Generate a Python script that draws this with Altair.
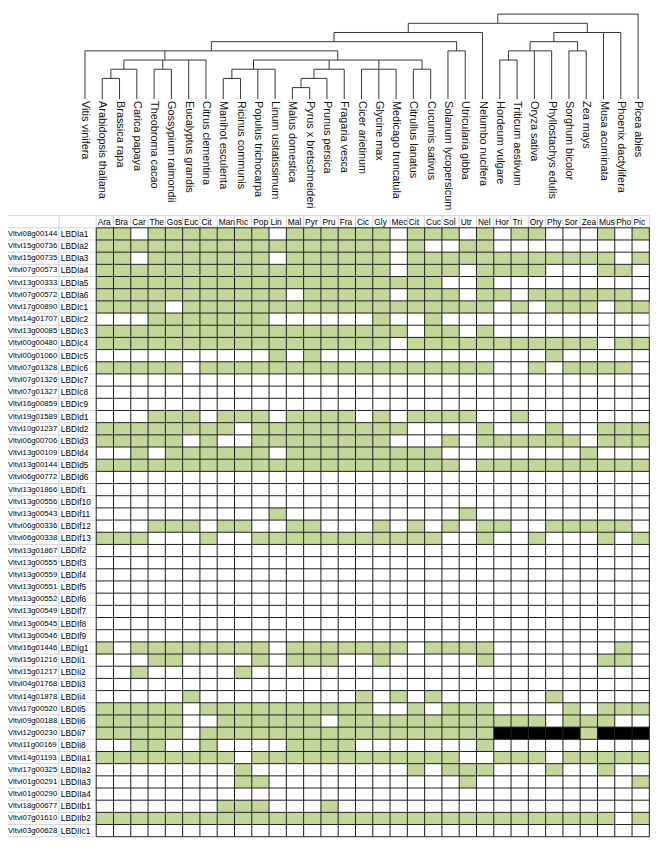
import altair as alt
import pandas as pd

# ---------------- data ----------------
species = [
    "Vitis vinifera", "Arabidopsis thaliana", "Brassica rapa", "Carica papaya",
    "Theobroma cacao", "Gossypium raimondii", "Eucalyptus grandis", "Citrus clementina",
    "Manihot esculenta", "Ricinus communis", "Populus trichocarpa", "Linum usitatissimum",
    "Malus domestica", "Pyrus x bretschneideri", "Prunus persica", "Fragaria vesca",
    "Cicer arietinum", "Glycine max", "Medicago truncatula", "Citrullus lanatus",
    "Cucumis sativus", "Solanum lycopersicum", "Utricularia gibba", "Nelumbo nucifera",
    "Hordeum vulgare", "Triticum aestivum", "Oryza sativa", "Phyllostachys edulis",
    "Sorghum bicolor", "Zea mays", "Musa acuminata", "Phoenix dactylifera", "Picea abies",
]

column_labels = [
    "Ara", "Bra", "Car", "The", "Gos", "Euc", "Cit", "Man", "Ric", "Pop", "Lin", "Mal", "Pyr",
    "Pru", "Fra", "Cic", "Gly", "Mec", "Cit", "Cuc", "Sol", "Utr", "Nel", "Hor", "Tri", "Ory",
    "Phy", "Sor", "Zea", "Mus", "Pho", "Pic",
]

# species tree (nested groups of leaf names)
tree = (
    (
        (
            (
                (
                    "Vitis vinifera",
                    (
                        (("Arabidopsis thaliana", "Brassica rapa"), "Carica papaya"),
                        ("Theobroma cacao", "Gossypium raimondii"),
                        "Eucalyptus grandis",
                        "Citrus clementina",
                    ),
                    (
                        (("Manihot esculenta", "Ricinus communis"), "Populus trichocarpa", "Linum usitatissimum"),
                        ((("Malus domestica", "Pyrus x bretschneideri"), "Prunus persica"), "Fragaria vesca"),
                        ("Cicer arietinum", "Glycine max", "Medicago truncatula"),
                        ("Citrullus lanatus", "Cucumis sativus"),
                    ),
                ),
                ("Solanum lycopersicum", "Utricularia gibba"),
            ),
            "Nelumbo nucifera",
        ),
        (
            (
                (("Hordeum vulgare", "Triticum aestivum"), "Oryza sativa", "Phyllostachys edulis"),
                ("Sorghum bicolor", "Zea mays"),
            ),
            "Musa acuminata",
            "Phoenix dactylifera",
        ),
    ),
    "Picea abies",
)

gene_ids = [
    "Vitvi08g00144", "Vitvi15g00736", "Vitvi15g00735", "Vitvi07g00573", "Vitvi13g00333",
    "Vitvi07g00572", "Vitvi17g00890", "Vitvi14g01707", "Vitvi13g00085", "Vitvi00g00480",
    "Vitvi00g01060", "Vitvi07g01328", "Vitvi07g01326", "Vitvi07g01327", "Vitvi16g00859",
    "Vitvi19g01589", "Vitvi10g01237", "Vitvi06g00706", "Vitvi13g00109", "Vitvi13g00144",
    "Vitvi06g00772", "Vitvi13g01866", "Vitvi13g00556", "Vitvi13g00543", "Vitvi06g00336",
    "Vitvi06g00338", "Vitvi13g01867", "Vitvi13g00555", "Vitvi13g00559", "Vitvi13g00551",
    "Vitvi13g00552", "Vitvi13g00549", "Vitvi13g00545", "Vitvi13g00546", "Vitvi16g01446",
    "Vitvi15g01216", "Vitvi15g01217", "Vitvi04g01768", "Vitvi14g01878", "Vitvi17g00520",
    "Vitvi09g00188", "Vitvi12g00230", "Vitvi11g00169", "Vitvi14g01193", "Vitvi17g00325",
    "Vitvi01g00291", "Vitvi01g00290", "Vitvi18g00677", "Vitvi07g01610", "Vitvi03g00628",
]

lbd_names = [
    "LBDIa1", "LBDIa2", "LBDIa3", "LBDIa4", "LBDIa5", "LBDIa6", "LBDIc1", "LBDIc2", "LBDIc3",
    "LBDIc4", "LBDIc5", "LBDIc6", "LBDIc7", "LBDIc8", "LBDIc9", "LBDId1", "LBDId2", "LBDId3",
    "LBDId4", "LBDId5", "LBDId6", "LBDIf1", "LBDIf10", "LBDIf11", "LBDIf12", "LBDIf13",
    "LBDIf2", "LBDIf3", "LBDIf4", "LBDIf5", "LBDIf6", "LBDIf7", "LBDIf8", "LBDIf9", "LBDIg1",
    "LBDIi1", "LBDIi2", "LBDIi3", "LBDIi4", "LBDIi5", "LBDIi6", "LBDIi7", "LBDIi8",
    "LBDIIa1", "LBDIIa2", "LBDIIa3", "LBDIIa4", "LBDIIb1", "LBDIIb2", "LBDIIc1",
]

# 1 = ortholog present, 0 = absent, X = black cell
presence = [
    "1101111111011" + "1111011101011000101",
    "1111111111111" + "1111010011000000000",
    "1101111111011" + "1111011111111111101",
    "1111111111111" + "1111011101111000110",
    "1111111111111" + "1111111001000000000",
    "1111111111101" + "1111011101101111110",
    "1111011111111" + "1111111111010111011",
    "0001111111000" + "0001001000000000000",
    "1111111111111" + "1111101101000000000",
    "1111111111111" + "1111011111111111011",
    "0000000000101" + "0000000000000100000",
    "1111101111111" + "1111111111001011110",
    "0000000000000" + "0000000000000000000",
    "0000000000000" + "0000000000000000000",
    "0000000000000" + "0000000000000000000",
    "0001110111011" + "1101011110010000000",
    "1111111101111" + "1111100001000100111",
    "1111101001111" + "1111000101111110111",
    "0010111111011" + "1111111000000001000",
    "1111111111111" + "1111111101111111111",
    "0000000000000" + "0000000000000000000",
    "0000000000000" + "0000000000000000000",
    "0000000000000" + "0000000000000000000",
    "0000000000100" + "0000000010000000000",
    "0001110110011" + "0001010101100111110",
    "1110001001111" + "1111111001001000101",
    "0000000000000" + "0000000000000000000",
    "0000000000000" + "0000000000000000000",
    "0000000000000" + "0000000000000000000",
    "0000000000000" + "0000000000000000000",
    "0000000000000" + "0000000000000000000",
    "0000000000000" + "0000000000000000000",
    "0000000000000" + "0000000000000000000",
    "0000000000000" + "0000000000000000000",
    "1011111111011" + "1111101111000000010",
    "0001100001011" + "1001000001000000110",
    "0010000010000" + "0000000000000000000",
    "0000000000000" + "0000000000000000000",
    "0000010000000" + "0010101000000100000",
    "1111101111111" + "1110010111000010111",
    "1111100111111" + "0111111111111011100",
    "1111101111111" + "1111111111XXXXX1XXX",
    "0011001000011" + "1100000001000000000",
    "1111111101111" + "1111111100111011111",
    "0000000010000" + "0000010111000100100",
    "0000000011000" + "0000000010000000001",
    "0000000000000" + "0000000000000000000",
    "0000000111000" + "1000000000000000000",
    "1111111111111" + "1111111111111111101",
    "0000000000000" + "0000000000000000000",
]

# ---------------- layout (pixels, chart-local) ----------------
W, H = 652, 836
COL_W = 17.5          # column width
ROW_H = 12.33         # row height
GRID_X0 = 89.3        # left edge of first species column
HEADER_Y0 = 205.0     # top of header row
TREE_TOP = 1.0        # root bracket
TREE_STEP = 9.3       # distance between tree levels
LEAF_BOTTOM = 87.0    # where leaf branches end
LABEL_TOP = 89.0      # start of rotated species names
LEAF_SHIFT = -0.65    # leaf position relative to column index
GENE_X = 0.0
LBD_X = 53.5
SEP_X = 51.5

def ux(px):
    return (px - GRID_X0) / COL_W

def vy(py):
    return (py - HEADER_Y0) / ROW_H

x_scale = alt.Scale(domain=[ux(0), ux(W)], nice=False, zero=False)
y_scale = alt.Scale(domain=[vy(0), vy(H)], nice=False, zero=False, reverse=True)

n_cols = len(column_labels)
n_rows = len(gene_ids)

# cells
cells = []
for r, row in enumerate(presence):
    for j, ch in enumerate(row):
        if ch != "0":
            cells.append({"x": j, "x2": j + 1, "y": r + 1, "y2": r + 2,
                          "state": "present" if ch == "1" else "blocked"})
cells_df = pd.DataFrame(cells)

# black grid lines
grid = [{"x": j, "x2": j, "y": 1, "y2": n_rows + 1} for j in range(n_cols + 1)]
grid += [{"x": 0, "x2": n_cols, "y": i, "y2": i} for i in range(1, n_rows + 2)]
grid_df = pd.DataFrame(grid)

# light (spreadsheet) lines
light = [{"x": ux(0), "x2": 0, "y": i, "y2": i} for i in range(1, n_rows + 2)]
light.append({"x": ux(0), "x2": n_cols, "y": 0, "y2": 0})
light.append({"x": ux(SEP_X), "x2": ux(SEP_X), "y": 0, "y2": n_rows + 1})
light += [{"x": j, "x2": j, "y": 0, "y2": 1} for j in range(n_cols + 1)]
light_df = pd.DataFrame(light)

red_df = pd.DataFrame([{"x": n_cols + 0.015, "x2": n_cols + 0.015, "y": vy(293), "y2": vy(328)}])

# tree segments
leaf_u = {name: i + LEAF_SHIFT for i, name in enumerate(species)}
segs = []

def level_v(k):
    return vy(TREE_TOP + k * TREE_STEP)

def build(node, depth):
    if isinstance(node, str):
        return leaf_u[node], None
    kids = [build(c, depth + 1) for c in node]
    xs = [k[0] for k in kids]
    for cx, cd in kids:
        segs.append({"x": cx, "x2": cx, "y": level_v(depth),
                     "y2": level_v(cd) if cd is not None else vy(LEAF_BOTTOM)})
    segs.append({"x": min(xs), "x2": max(xs), "y": level_v(depth), "y2": level_v(depth)})
    return (min(xs) + max(xs)) / 2, depth

build(tree, 0)
tree_df = pd.DataFrame(segs)

species_df = pd.DataFrame({"x": [leaf_u[s] for s in species], "y": vy(LABEL_TOP), "t": species})
header_df = pd.DataFrame({"x": list(range(n_cols)), "y": 0.5, "t": column_labels})
gene_df = pd.DataFrame({"x": ux(GENE_X), "y": [r + 1.5 for r in range(n_rows)], "t": gene_ids})
lbd_df = pd.DataFrame({"x": ux(LBD_X), "y": [r + 1.5 for r in range(n_rows)], "t": lbd_names})

X = lambda: alt.X("x:Q", scale=x_scale, axis=None)
Y = lambda: alt.Y("y:Q", scale=y_scale, axis=None)

def segments(df, color, width=1):
    return alt.Chart(df).mark_rule(color=color, strokeWidth=width).encode(
        x=X(), x2="x2:Q", y=Y(), y2="y2:Q")

cell_layer = alt.Chart(cells_df).mark_rect(strokeWidth=0).encode(
    x=X(), x2="x2:Q", y=Y(), y2="y2:Q",
    color=alt.Color("state:N", scale=alt.Scale(domain=["present", "blocked"],
                                              range=["#c4d79b", "#000000"]), legend=None),
)

LABEL_FONT = "Liberation Sans, Arial"

gene_layer = alt.Chart(gene_df).mark_text(align="left", baseline="middle", font=LABEL_FONT,
                                          fontSize=7.9, color="#000").encode(x=X(), y=Y(), text="t:N")
lbd_layer = alt.Chart(lbd_df).mark_text(align="left", baseline="middle", font=LABEL_FONT,
                                        fontSize=8.4, color="#000").encode(x=X(), y=Y(), text="t:N")
header_layer = alt.Chart(header_df).mark_text(align="left", baseline="middle", font=LABEL_FONT,
                                              fontSize=8.5, dx=1.5, color="#000").encode(x=X(), y=Y(), text="t:N")
species_layer = alt.Chart(species_df).mark_text(align="left", baseline="middle", angle=90,
                                                font="Liberation Sans, Arial", fontSize=11,
                                                color="#111").encode(x=X(), y=Y(), text="t:N")

chart = alt.layer(
    cell_layer,
    segments(light_df, "#d4d4d4"),
    segments(grid_df, "#1a1a1a"),
    segments(red_df, "#ee8888"),
    segments(tree_df, "#333333"),
    gene_layer, lbd_layer, header_layer, species_layer,
).properties(
    width=W, height=H, padding=0, background="white",
    autosize=alt.AutoSizeParams(type="none"),
).configure_view(strokeWidth=0)

chart.save("out.html", embed_options={"renderer": "svg", "actions": False})
